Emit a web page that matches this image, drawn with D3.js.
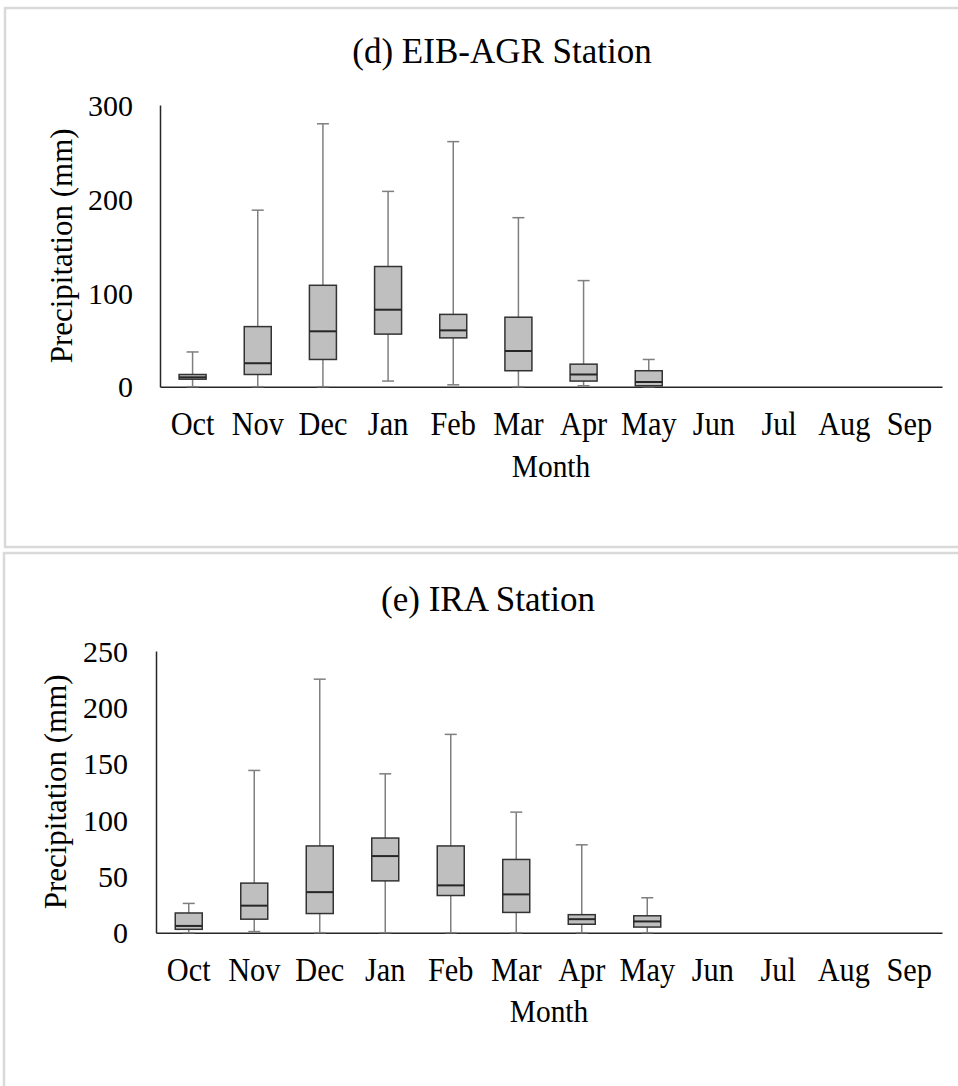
<!DOCTYPE html>
<html>
<head>
<meta charset="utf-8">
<script src="https://cdn.jsdelivr.net/npm/d3@7/dist/d3.min.js"></script>
<style>
  html, body { margin: 0; padding: 0; background: #ffffff; }
  svg { display: block; }
  text { font-family: "Liberation Serif", "Times New Roman", serif; fill: #000; }
</style>
</head>
<body>
<svg id="chart" width="958" height="1086"></svg>
<script>
// Months of the water year
const months = ["Oct", "Nov", "Dec", "Jan", "Feb", "Mar", "Apr", "May", "Jun", "Jul", "Aug", "Sep"];

// (d) EIB-AGR Station — monthly precipitation summary (mm)
const eibMin    = [0, 0, 0, 6, 2, 0, 1, 0, null, null, null, null];
const eibQ1     = [8, 13, 29, 56, 52, 17, 6, 1, null, null, null, null];
const eibMedian = [10, 25, 59, 82, 60, 38, 13, 5, null, null, null, null];
const eibQ3     = [13, 64, 108, 128, 77, 74, 24, 17, null, null, null, null];
const eibMax    = [37, 188, 280, 208, 261, 180, 113, 29, null, null, null, null];
const eibTicks  = [0, 100, 200, 300];

// (e) IRA Station — monthly precipitation summary (mm)
const iraMin    = [0, 1, 0, 0, 0, 0, 0, 0, null, null, null, null];
const iraQ1     = [3, 12, 17, 46, 33, 18, 7.5, 5, null, null, null, null];
const iraMedian = [6, 24, 36, 68, 42, 34, 12, 10, null, null, null, null];
const iraQ3     = [17.5, 44, 77, 84, 77, 65, 16, 15, null, null, null, null];
const iraMax    = [26, 144, 225, 141, 176, 107, 78, 31, null, null, null, null];
const iraTicks  = [0, 50, 100, 150, 200, 250];

const svg = d3.select("#chart");

function buildRows(mins, q1s, meds, q3s, maxs) {
  return months.map((m, i) => ({
    month: m, min: mins[i], q1: q1s[i], median: meds[i], q3: q3s[i], max: maxs[i]
  })).filter(d => d.median !== null);
}

function drawPanel(p) {
  // panel frame
  svg.append("rect")
    .attr("x", p.frame[0]).attr("y", p.frame[1])
    .attr("width", p.frame[2]).attr("height", p.frame[3])
    .attr("fill", "#fff").attr("stroke", "#d9d9d9").attr("stroke-width", 2.5);

  const g = svg.append("g");
  const x = d3.scaleBand().domain(months).range([p.left, p.right]);
  const y = d3.scaleLinear().domain([0, p.yMax]).range([p.bottom, p.top]);

  // title
  g.append("text")
    .attr("x", p.titleX).attr("y", p.titleY)
    .attr("text-anchor", "middle")
    .style("font-size", "35px")
    .text(p.title);

  // y axis
  const yAxis = d3.axisLeft(y).tickValues(p.ticks).tickSize(0).tickPadding(p.tickPad).tickFormat(d3.format("d"));
  const ya = g.append("g").attr("transform", `translate(${p.left},0)`).call(yAxis);
  ya.select(".domain").attr("stroke", "#262626").attr("stroke-width", 1.5);
  ya.selectAll("text").style("font-size", "30px").style("font-family", "Liberation Serif, serif").attr("dy", "0.34em");

  // x axis
  const xAxis = d3.axisBottom(x).tickSize(0).tickPadding(p.xPad);
  const xa = g.append("g").attr("transform", `translate(0,${p.bottom})`).call(xAxis);
  xa.select(".domain").attr("stroke", "#262626").attr("stroke-width", 1.5);
  xa.selectAll("text").style("font-size", "33px").style("font-family", "Liberation Serif, serif")
    .attr("transform", "scale(0.92,1)");

  // axis titles
  g.append("text")
    .attr("transform", `translate(${(p.left + p.right) / 2},${p.monthY}) scale(0.92,1)`)
    .attr("text-anchor", "middle").style("font-size", "32px").text("Month");
  g.append("text")
    .attr("transform", `translate(${p.yLabelX},${(p.top + p.bottom) / 2}) rotate(-90)`)
    .attr("text-anchor", "middle").style("font-size", "31px").text("Precipitation (mm)");

  const rows = buildRows(...p.data);
  const bw = 27, cap = 12;
  const cx = d => x(d.month) + x.bandwidth() / 2;

  const boxes = g.append("g").selectAll("g").data(rows).join("g");

  // whiskers
  boxes.append("line")
    .attr("x1", cx).attr("x2", cx)
    .attr("y1", d => y(d.max)).attr("y2", d => y(d.q3))
    .attr("stroke", "#7f7f7f").attr("stroke-width", 1.5);
  boxes.append("line")
    .attr("x1", cx).attr("x2", cx)
    .attr("y1", d => y(d.q1)).attr("y2", d => y(d.min))
    .attr("stroke", "#7f7f7f").attr("stroke-width", 1.5);
  // caps
  boxes.append("line")
    .attr("x1", d => cx(d) - cap / 2).attr("x2", d => cx(d) + cap / 2)
    .attr("y1", d => y(d.max)).attr("y2", d => y(d.max))
    .attr("stroke", "#7f7f7f").attr("stroke-width", 1.5);
  boxes.append("line")
    .attr("x1", d => cx(d) - cap / 2).attr("x2", d => cx(d) + cap / 2)
    .attr("y1", d => y(d.min)).attr("y2", d => y(d.min))
    .attr("stroke", "#7f7f7f").attr("stroke-width", 1.5);
  // boxes
  boxes.append("rect")
    .attr("x", d => cx(d) - bw / 2).attr("width", bw)
    .attr("y", d => y(d.q3)).attr("height", d => y(d.q1) - y(d.q3))
    .attr("fill", "#bfbfbf").attr("stroke", "#333333").attr("stroke-width", 1.5);
  // medians
  boxes.append("line")
    .attr("x1", d => cx(d) - bw / 2).attr("x2", d => cx(d) + bw / 2)
    .attr("y1", d => y(d.median)).attr("y2", d => y(d.median))
    .attr("stroke", "#262626").attr("stroke-width", 2);
}

drawPanel({
  frame: [5, 8, 980, 539],
  title: "(d) EIB-AGR Station", titleX: 502, titleY: 63,
  left: 160, right: 942, top: 105, bottom: 386.7, yMax: 300,
  ticks: eibTicks, tickPad: 27, xPad: 25, monthY: 477, yLabelX: 72,
  data: [eibMin, eibQ1, eibMedian, eibQ3, eibMax]
});

drawPanel({
  frame: [4, 553, 980, 560],
  title: "(e) IRA Station", titleX: 488, titleY: 611,
  left: 156, right: 942, top: 651, bottom: 932.7, yMax: 250,
  ticks: iraTicks, tickPad: 28, xPad: 25, monthY: 1022, yLabelX: 66,
  data: [iraMin, iraQ1, iraMedian, iraQ3, iraMax]
});
</script>
</body>
</html>
